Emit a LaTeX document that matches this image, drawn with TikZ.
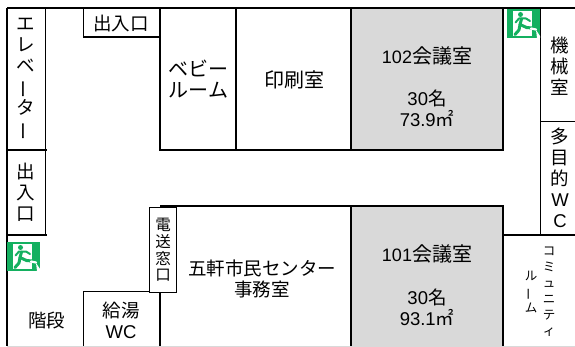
\documentclass[tikz,border=0pt]{standalone}
\usepackage{fontspec}
\setmainfont{Noto Sans CJK JP}
\newfontfamily\latn[Scale=1.0]{Liberation Sans}
\newcommand{\vlong}{\rotatebox[origin=c]{90}{ー}}
\definecolor{roomgray}{HTML}{D9D9D9}
\definecolor{exitgreen}{HTML}{14B060}
\tikzset{
  wall/.style={draw=black,line width=1.8pt},
  room/.style={fill=roomgray,draw=black,line width=1.8pt},
  lab/.style={inner sep=0pt,align=center,font=\fontsize{18.5}{21}\selectfont},
  biglab/.style={inner sep=0pt,align=center,font=\fontsize{20}{21}\selectfont},
  small/.style={inner sep=0pt,align=center,font=\fontsize{15.5}{16.7}\selectfont},
  tiny/.style={inner sep=0pt,align=center,font=\fontsize{12.5}{16}\selectfont},
  man/.pic={
    \fill[exitgreen] (0,0) rectangle (33,29);
    \fill[white] (6,2.5) rectangle (25,27);
    \fill[exitgreen] (13.5,5.5) circle (2.5);
    \draw[exitgreen,line width=2pt,line join=round,line cap=round] (8.5,13.5) -- (12,9.5) -- (19,9.5) -- (23,12);
    \draw[exitgreen,line width=3pt,line join=round,line cap=round] (14.5,10) -- (13,15.5) -- (19.5,18.5) -- (25,19);
    \draw[exitgreen,line width=3pt,line join=round,line cap=round] (13,15.5) -- (12,21) -- (8,25.5);
    \draw[white,line width=2.2pt,line cap=round] (24,19.5) -- (29,20.5);
    \fill[white] (29,21) -- (33,27) -- (33,29) -- (30,29) -- cycle;
  }
}
\begin{document}
\begin{tikzpicture}[x=1pt,y=-1pt]
\useasboundingbox (0,0) rectangle (575,347);
\fill[white] (0,0) rectangle (575,347);
% gray meeting rooms
\draw[room] (351,8) rectangle (503,150);
\fill[roomgray] (351,206) rectangle (503,346);
\draw[wall] (351,346) -- (351,206) -- (503,206) -- (503,346);
% walls
\draw[wall] (7,8) -- (575,8);
\draw[wall] (7,8) -- (7,346);
\draw[wall] (45.5,8) -- (45.5,235);
\draw[wall] (7,150) -- (47,150);
\draw[wall] (7,235) -- (47,235);
\draw[wall] (83.5,8) -- (83.5,37) -- (160,37);
\draw[wall] (160,8) -- (160,150) -- (351,150);
\draw[wall] (236,8) -- (236,150);
\draw[wall] (160,206) -- (351,206);
\draw[wall] (83.5,346) -- (83.5,291.5) -- (160,291.5);
\draw[wall] (160,291.5) -- (160,346);
\draw[wall] (540.5,8) -- (540.5,235);
\draw[wall] (540.5,121.5) -- (575,121.5);
\draw[wall] (503,235) -- (575,235);
\draw[draw=roomgray,line width=0.8pt] (7,346.5) -- (575,346.5);
% window box
\draw[fill=white,draw=black,line width=0.9pt] (149,207) rectangle (176,292);
% exit signs
\pic at (7,242) {man};
\pic at (507,9) {man};
% texts
\node[lab] (elev) at (26,79.5) {エ\\レ\\ベ\\\vlong\\タ\\\vlong};
\node[lab] (ent1) at (121,24) {出入口};
\node[biglab] (baby) at (198.5,79.5) {ベビー\\ルーム};
\node[biglab] (print) at (294,80) {印刷室};
\node[biglab] (r102a) at (427,56) {{\fontsize{18}{21}\selectfont\latn 102}会議室};
\node[lab] (r102b) at (427,98) {{\latn 30}名};
\node[lab] (r102c) at (427,119) {{\latn 73.9}㎡};
\node[lab] (ent2) at (26,192.5) {出\\入\\口};
\node[small] (wind) at (163,250) {電\\送\\窓\\口};
\node[lab] (off) at (262,278.5) {五軒市民センター\\事務室};
\node[biglab] (r101a) at (427,254) {{\fontsize{18}{21}\selectfont\latn 101}会議室};
\node[lab] (r101b) at (427,297) {{\latn 30}名};
\node[lab] (r101c) at (427,318) {{\latn 93.1}㎡};
\node[lab] (stair) at (46.5,320) {階段};
\node[lab] (kyu) at (121,320) {給湯\\{\latn WC}};
\node[lab] (mach) at (560,66) {機\\械\\室};
\node[lab] (multi) at (560,178) {多\\目\\的\\{\latn W}\\{\latn C}};
\node[tiny] (comm) at (549,292) {コ\\ミ\\ュ\\ニ\\テ\\ィ};
\node[tiny] (roomb) at (531,292.5) {ル\\\vlong\\ム};
\end{tikzpicture}
\end{document}
